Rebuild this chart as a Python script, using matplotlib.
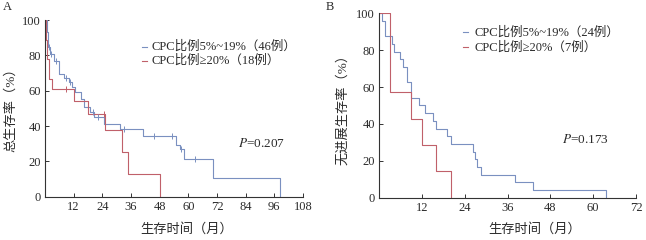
import matplotlib
matplotlib.use("Agg")
import matplotlib.pyplot as plt

plt.rcParams['font.family'] = ['Liberation Serif', 'Noto Sans CJK SC', 'DejaVu Sans']

# ---------- data ----------
# Panel A: overall survival
a_blue_t = [0, 0.7, 1.3, 2.2, 3.7, 5.8, 7.9, 9.9, 11.3, 12.4, 15.2, 16.2, 19.0, 20.7, 24.9, 31.4, 41.1, 55.0, 56.4, 58.2, 70.2, 98.4]
a_blue_s = [100, 93.5, 85, 81, 77, 69.5, 67.4, 65, 62, 59.3, 55.5, 50.6, 48, 45.2, 41.4, 38.3, 34.3, 29.3, 27, 21.2, 10.6, 0]
a_blue_ct = [1.6, 2.6, 4.4, 8.6, 10.5, 20.0, 22.3, 33.0, 45.5, 53.0, 56.8, 62.7]
a_blue_cs = [85, 81, 77, 67.4, 65, 48, 45.2, 38.3, 34.3, 34.3, 27, 21.2]
a_red_t = [0, 0.4, 0.9, 1.5, 3.0, 12.0, 18.0, 25.3, 32.1, 34.9, 48.3]
a_red_s = [100, 88.9, 77.8, 66.7, 61.1, 54.3, 47.1, 37.7, 25.1, 12.6, 0]
a_red_ct = [8.6, 24.5]
a_red_cs = [61.1, 47.1]

# Panel B: progression-free survival
b_blue_t = [0, 0.85, 1.6, 3.5, 4.1, 5.8, 6.6, 7.9, 8.8, 11.2, 12.8, 15.0, 15.9, 18.9, 20.0, 26.2, 26.8, 27.5, 28.4, 38.1, 43.2, 63.6]
b_blue_s = [100, 95.8, 87.5, 83.3, 79.2, 75, 70.8, 62.5, 54.2, 50, 45.8, 41.7, 37.5, 33.3, 29.2, 25, 20.8, 16.7, 12.5, 8.3, 4.2, 0]
b_red_t = [0, 3.0, 8.8, 11.9, 15.9, 20.1]
b_red_s = [100, 57.1, 42.9, 28.6, 14.3, 0]

legend_a = ['CPC比例5%~19%（46例）', 'CPC比例≥20%（18例）']
legend_b = ['CPC比例5%~19%（24例）', 'CPC比例≥20%（7例）']
ylabel_a = '总生存率（%）'
ylabel_b = '无进展生存率（%）'
xlabel = '生存时间（月）'
p_a = '0.207'
p_b = '0.173'
xticks_a = [12, 24, 36, 48, 60, 72, 84, 96, 108]
xticks_b = [12, 24, 36, 48, 60, 72]
yticks = [0, 20, 40, 60, 80, 100]

BLUE = '#7a90c0'
RED = '#c0606a'
TXT = '#2a2a2a'
FS_TICK = 9
FS_LEG = 9
FS_LAB = 9.5

W, H = 646, 240
fig = plt.figure(figsize=(W / 100, H / 100), dpi=100)


def px_axes(l, t, r, b):
    return fig.add_axes([l / W, 1 - b / H, (r - l) / W, (b - t) / H])


def style(ax, xmax, xticks):
    ax.set_xlim(0, xmax)
    ax.set_ylim(0, 100)
    for s in ['top', 'right']:
        ax.spines[s].set_visible(False)
    for s in ['left', 'bottom']:
        ax.spines[s].set_linewidth(0.8)
        ax.spines[s].set_color('#333333')
    ax.set_xticks(xticks)
    ax.set_yticks(yticks)
    ax.tick_params(direction='in', length=3, width=0.7, labelsize=FS_TICK, pad=3,
                   colors='#333333', labelcolor=TXT)
    ax.set_facecolor('none')


# Panel A
axA = px_axes(45, 20.2, 303, 196.7)
axA.step(a_blue_t, a_blue_s, where='post', color=BLUE, lw=0.8)
axA.step(a_red_t, a_red_s, where='post', color=RED, lw=0.8)
axA.plot(a_blue_ct, a_blue_cs, ls='none', marker='|', ms=4, mew=0.7, color=BLUE)
axA.plot(a_red_ct, a_red_cs, ls='none', marker='|', ms=4, mew=0.7, color=RED)
style(axA, 108, xticks_a)

# Panel B
axB = px_axes(379.3, 13.2, 636, 197.7)
axB.step(b_blue_t, b_blue_s, where='post', color=BLUE, lw=0.8)
axB.step(b_red_t, b_red_s, where='post', color=RED, lw=0.8)
style(axB, 72, xticks_b)


def fx(x):
    return x / W


def fy(y):
    return 1 - y / H


# legends
for (x0, x1, xt, ys, labels) in [(141.5, 146.5, 151.5, [46.7, 61.0], legend_a),
                                  (463.3, 468.3, 474.5, [32.3, 47.3], legend_b)]:
    for y, lab, c in zip(ys, labels, [BLUE, RED]):
        fig.add_artist(plt.Line2D([fx(x0), fx(x1)], [fy(y), fy(y)], color=c, lw=0.8))
        fig.text(fx(xt), fy(y), lab, fontsize=FS_LEG, va='center', ha='left', color=TXT)

# p values
fig.text(fx(238), fy(143.3), r'$\it{P}$' + '=' + p_a, fontsize=FS_LEG + 0.5, va='center', ha='left', color=TXT,
         math_fontfamily='stix')
fig.text(fx(561.7), fy(139.3), r'$\it{P}$' + '=' + p_b, fontsize=FS_LEG + 0.5, va='center', ha='left', color=TXT,
         math_fontfamily='stix')

# axis labels
fig.text(fx(11), fy(107), ylabel_a, rotation=90, fontsize=FS_LAB, va='center', ha='center', color=TXT)
fig.text(fx(343), fy(106), ylabel_b, rotation=90, fontsize=FS_LAB, va='center', ha='center', color=TXT)
fig.text(fx(187), fy(229), xlabel, fontsize=FS_LAB, va='center', ha='center', color=TXT)
fig.text(fx(535), fy(229), xlabel, fontsize=FS_LAB, va='center', ha='center', color=TXT)

# panel letters
fig.text(fx(3), fy(7), 'A', fontsize=FS_LEG, va='center', ha='left', color=TXT)
fig.text(fx(326), fy(7), 'B', fontsize=FS_LEG, va='center', ha='left', color=TXT)

fig.savefig('out.png', dpi=100)
